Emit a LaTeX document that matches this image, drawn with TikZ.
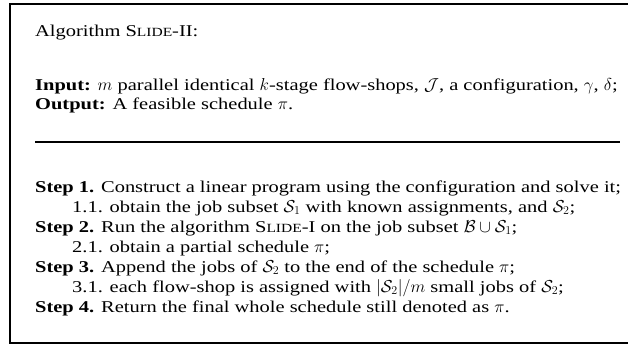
\documentclass[tikz,border=0pt]{standalone}
\usepackage{fontspec}
\setmainfont{Liberation Serif}[FakeStretch=1.24]
\newcommand{\scname}[1]{S{\fontsize{12.5}{14}\selectfont #1}}
\begin{document}
\begin{tikzpicture}[x=1pt,y=-1pt,
  txt/.style={anchor=base west,inner sep=0pt,font=\fontsize{16.5}{19}\selectfont},
  frame/.style={line width=2pt,line cap=rect},
  rulebar/.style={line width=1.6pt}]
\useasboundingbox (0,0) rectangle (628,346);
\coordinate (tl) at (10,4);
\coordinate (tr) at (640,4);
\coordinate (bl) at (10,343);
\coordinate (br) at (640,343);
\draw[frame] (tr) -- (tl) -- (bl) -- (br);
\coordinate (ra) at (35,142);
\coordinate (rb) at (620,142);
\draw[rulebar] (ra) -- (rb);
\node[txt] (title) at (35,36) {Algorithm \scname{LIDE}-II:};
\node[txt] (in) at (35,90) {\textbf{Input:} $m$ parallel identical $k$-stage flow-shops, $\mathcal{J}$, a configuration, $\gamma$, $\delta$;};
\node[txt] (out) at (35,109) {\textbf{Output:} A feasible schedule $\pi$.};
\node[txt] (s1) at (35,192) {\textbf{Step 1.} Construct a linear program using the configuration and solve it;};
\node[txt] (s11) at (72,212) {1.1. obtain the job subset $\mathcal{S}_1$ with known assignments, and $\mathcal{S}_2$;};
\node[txt] (s2) at (35,232) {\textbf{Step 2.} Run the algorithm \scname{LIDE}-I on the job subset $\mathcal{B}\cup\mathcal{S}_1$;};
\node[txt] (s21) at (72,252) {2.1. obtain a partial schedule $\pi$;};
\node[txt] (s3) at (35,272) {\textbf{Step 3.} Append the jobs of $\mathcal{S}_2$ to the end of the schedule $\pi$;};
\node[txt] (s31) at (72,292) {3.1. each flow-shop is assigned with $|\mathcal{S}_2|/m$ small jobs of $\mathcal{S}_2$;};
\node[txt] (s4) at (35,312) {\textbf{Step 4.} Return the final whole schedule still denoted as $\pi$.};
\end{tikzpicture}
\end{document}
